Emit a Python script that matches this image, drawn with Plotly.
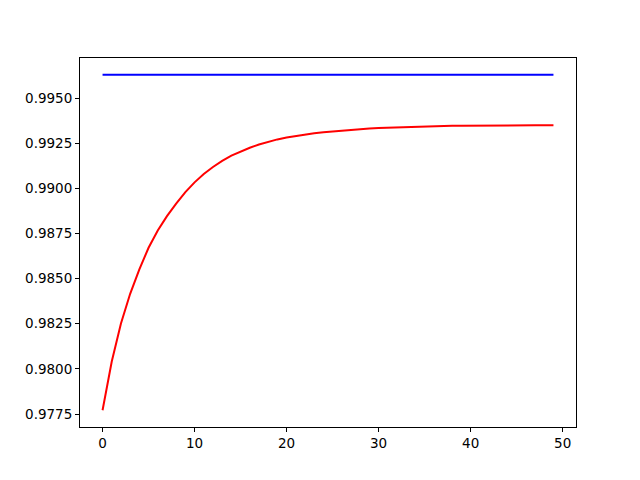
import plotly.graph_objects as go

x_values = list(range(50))
blue_values = [0.99629] * 50
red_values = [
    0.97771, 0.98041, 0.98251, 0.98416, 0.98551, 0.98671, 0.98766, 0.98846, 0.98915, 0.98979,
    0.99033, 0.99079, 0.99118, 0.99152, 0.99181, 0.99205, 0.99225, 0.99243, 0.99259, 0.99271,
    0.99281, 0.99290, 0.99298, 0.99305, 0.99311, 0.99316, 0.99321, 0.99325, 0.99329, 0.99332,
    0.99334, 0.99336, 0.99338, 0.99340, 0.99341, 0.99343, 0.99344, 0.99345, 0.99346, 0.99346,
    0.99347, 0.99347, 0.99348, 0.99348, 0.99349, 0.99349, 0.99349, 0.99350, 0.99350, 0.99350,
]
x_ticks = [0, 10, 20, 30, 40, 50]
y_ticks = [0.9775, 0.9800, 0.9825, 0.9850, 0.9875, 0.9900, 0.9925, 0.9950]

fig = go.Figure()
fig.add_trace(go.Scatter(x=x_values, y=blue_values, mode="lines",
                         line=dict(color="#0000ff", width=2), showlegend=False))
fig.add_trace(go.Scatter(x=x_values, y=red_values, mode="lines",
                         line=dict(color="#ff0000", width=2), showlegend=False))

all_y = blue_values + red_values
ymin, ymax = min(all_y), max(all_y)
ypad = (ymax - ymin) * 0.05
xpad = (max(x_values) - min(x_values)) * 0.05

axis_common = dict(
    showline=True, linecolor="black", linewidth=1, mirror=True,
    ticks="outside", ticklen=4, tickcolor="black", tickwidth=1,
    showgrid=False, zeroline=False,
    tickfont=dict(family="DejaVu Sans", size=13.5, color="black"),
)

fig.update_layout(
    width=632, height=472,
    margin=dict(l=72, r=64, t=50, b=53),
    paper_bgcolor="white", plot_bgcolor="white",
    xaxis=dict(range=[min(x_values) - xpad, max(x_values) + xpad],
               tickvals=x_ticks, **axis_common),
    yaxis=dict(range=[ymin - ypad, ymax + ypad], tickvals=y_ticks,
               tickformat=".4f", **axis_common),
)

fig.write_html("out.html")
